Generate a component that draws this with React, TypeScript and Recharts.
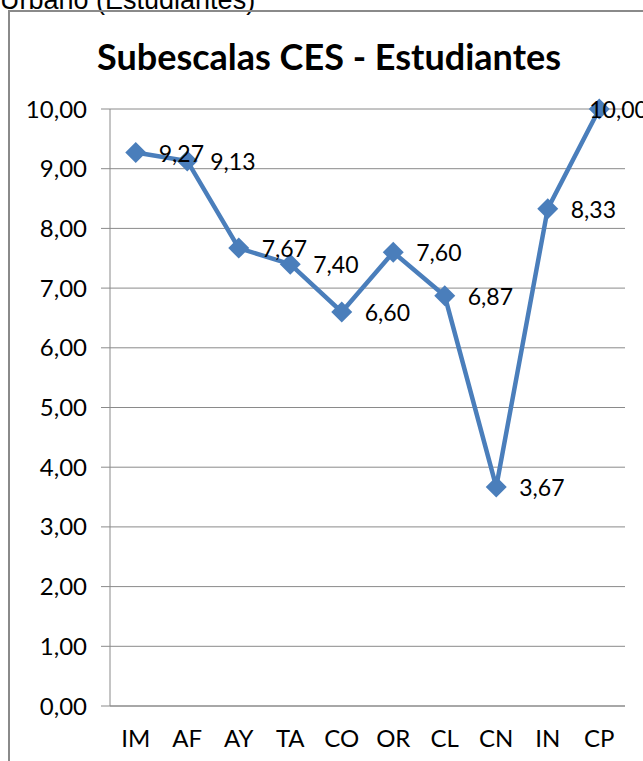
import React from 'react';
import { LineChart, Line, XAxis, YAxis, CartesianGrid } from 'recharts';

const categories = ['IM', 'AF', 'AY', 'TA', 'CO', 'OR', 'CL', 'CN', 'IN', 'CP'];
const scores = [9.27, 9.13, 7.67, 7.4, 6.6, 7.6, 6.87, 3.67, 8.33, 10.0];
const yTicks = [0, 1, 2, 3, 4, 5, 6, 7, 8, 9, 10];
const boundaryTicks = [0, 1, 2, 3, 4, 5, 6, 7, 8, 9, 10];

const data = categories.map((name, i) => ({ name, value: scores[i] }));

const BLUE = '#4A7EBB';
const GRAY = '#8a8a8a';
const FONT = 'Lato, "Noto Sans", sans-serif';

const fmt = (v: number) => v.toFixed(2).replace('.', ',');

const Diamond = (props: any) => {
    const { cx, cy, index } = props;
    if (cx == null || cy == null) return null;
    const r = 10.5;
    return (
        <path
            key={`d-${index}`}
            d={`M${cx},${cy - r} L${cx + r},${cy} L${cx},${cy + r} L${cx - r},${cy} Z`}
            fill={BLUE}
            stroke="none"
        />
    );
};

const ValueLabel = (props: any) => {
    const { x, y, value, index } = props;
    // the last label doesn't fit on the right, Excel pushes it back
    const dx = index === scores.length - 1 ? -10 : 23;
    return (
        <text
            x={x + dx}
            y={y}
            dominantBaseline="central"
            fontSize={23}
            fontFamily={FONT}
            fill="#000"
        >
            {fmt(value)}
        </text>
    );
};

export default function App() {
    return (
        <div style={{ position: 'fixed', left: 0, top: 0, width: 643, height: 761, overflow: 'hidden', background: '#fff' }}>
            <div
                style={{
                    position: 'absolute', left: 0, top: -13, fontFamily: '"Liberation Sans", Arial, sans-serif',
                    fontSize: 27, lineHeight: '27px', color: '#000', whiteSpace: 'nowrap',
                }}
            >
                Urbano (Estudiantes)
            </div>
            <div
                style={{
                    position: 'absolute', left: 8, top: 10, width: 700, height: 800,
                    borderLeft: `2px solid ${GRAY}`, borderTop: `2px solid ${GRAY}`, boxSizing: 'border-box',
                }}
            />
            <div
                style={{
                    position: 'absolute', left: 8, top: 38, width: 642, textAlign: 'center',
                    fontFamily: FONT, fontWeight: 700, fontSize: 36, lineHeight: '36px', color: '#000',
                }}
            >
                Subescalas CES - Estudiantes
            </div>
            <div style={{ position: 'absolute', left: 0, top: 0 }}>
                <LineChart width={643} height={761} data={data} margin={{ top: 109, right: 18, bottom: 0, left: 0 }}>
                    <CartesianGrid horizontal vertical={false} stroke={GRAY} xAxisId="axis" />
                    <XAxis
                        xAxisId="axis"
                        type="number"
                        domain={[0, 10]}
                        ticks={boundaryTicks}
                        allowDataOverflow
                        height={1}
                        tick={false}
                        tickSize={7}
                        tickLine={{ stroke: GRAY }}
                        axisLine={{ stroke: GRAY }}
                    />
                    <XAxis
                        xAxisId="labels"
                        dataKey="name"
                        scale="band"
                        height={54}
                        axisLine={false}
                        tickLine={false}
                        tickSize={0}
                        tickMargin={23}
                        interval={0}
                        tick={{ fontSize: 24, fontFamily: FONT, fill: '#000' }}
                    />
                    <YAxis
                        width={110}
                        domain={[0, 10]}
                        ticks={yTicks}
                        interval={0}
                        tickFormatter={fmt}
                        tickSize={9}
                        tickMargin={14}
                        tickLine={{ stroke: GRAY }}
                        axisLine={{ stroke: GRAY }}
                        tick={{ fontSize: 24, fontFamily: FONT, fill: '#000' }}
                    />
                    <Line
                        xAxisId="labels"
                        dataKey="value"
                        type="linear"
                        stroke={BLUE}
                        strokeWidth={4.5}
                        dot={Diamond}
                        activeDot={false}
                        label={ValueLabel}
                        isAnimationActive={false}
                    />
                </LineChart>
            </div>
        </div>
    );
}
